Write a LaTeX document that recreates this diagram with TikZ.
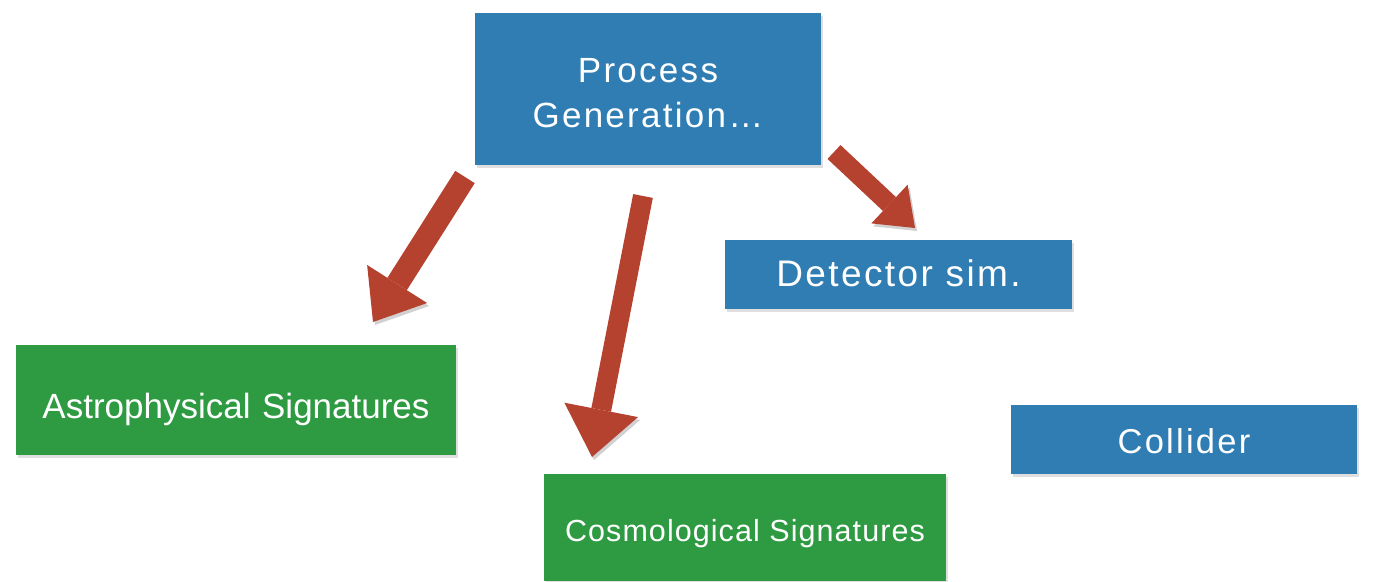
\documentclass[tikz,border=0pt]{standalone}
\usepackage{fontspec}
\setmainfont{Liberation Sans}
\newfontfamily\spacedfont{Liberation Sans}[LetterSpace=6.5]
\newfontfamily\greenfont{Liberation Sans}[LetterSpace=3.5]
\usetikzlibrary{arrows.meta,shadows}
\definecolor{boxblue}{RGB}{47,125,179}
\definecolor{boxgreen}{RGB}{46,155,66}
\definecolor{arrowred}{RGB}{181,65,47}
\begin{document}
\begin{tikzpicture}[x=1pt,y=-1pt,
  box/.style={fill=#1, text=white, inner sep=0pt, align=center, text depth=0pt,
    drop shadow={shadow xshift=2pt,shadow yshift=-3pt,opacity=0.25}},
  bigarrow/.style n args={3}{draw=arrowred, line width=#1,
    -{Triangle[width=#2,length=#3,line width=0pt]},
    preaction={draw=black!18, transform canvas={xshift=2pt,yshift=-3pt}}}
]
\useasboundingbox (0,0) rectangle (1375,581);

\node[box=boxblue, minimum width=346pt, minimum height=152pt, text height=76pt,
  font=\spacedfont\fontsize{35}{44.3}\selectfont] (proc) at (648,89) {Process\\Generation…};
\node[box=boxblue, minimum width=347pt, minimum height=69pt, text height=23pt,
  font=\spacedfont\fontsize{37}{44}\selectfont] (det) at (898.5,274.5) {Detector sim.};
\node[box=boxgreen, minimum width=440pt, minimum height=110pt, text height=36pt,
  font=\fontsize{35}{40}\selectfont] (astro) at (236,400) {Astrophysical\hspace{0.33em}Signatures};
\node[box=boxgreen, minimum width=402pt, minimum height=107pt, text height=28.4pt,
  font=\greenfont\fontsize{30.5}{40}\selectfont] (cosmo) at (745,527.5) {Cosmological Signatures};
\node[box=boxblue, minimum width=346pt, minimum height=69pt, text height=27pt,
  font=\spacedfont\fontsize{34.5}{44}\selectfont] (coll) at (1184,439.5) {Collider};

\coordinate (a1s) at (465,177);
\coordinate (a1e) at (373,322);
\coordinate (a2s) at (643,196);
\coordinate (a2e) at (592,457);
\coordinate (a3s) at (834,152);
\coordinate (a3e) at (915,228);

\draw[bigarrow={23pt}{71pt}{45pt}] (a1s) -- (a1e);
\draw[bigarrow={20pt}{75pt}{48pt}] (a2s) -- (a2e);
\draw[bigarrow={19pt}{53pt}{35pt}] (a3s) -- (a3e);
\end{tikzpicture}
\end{document}
